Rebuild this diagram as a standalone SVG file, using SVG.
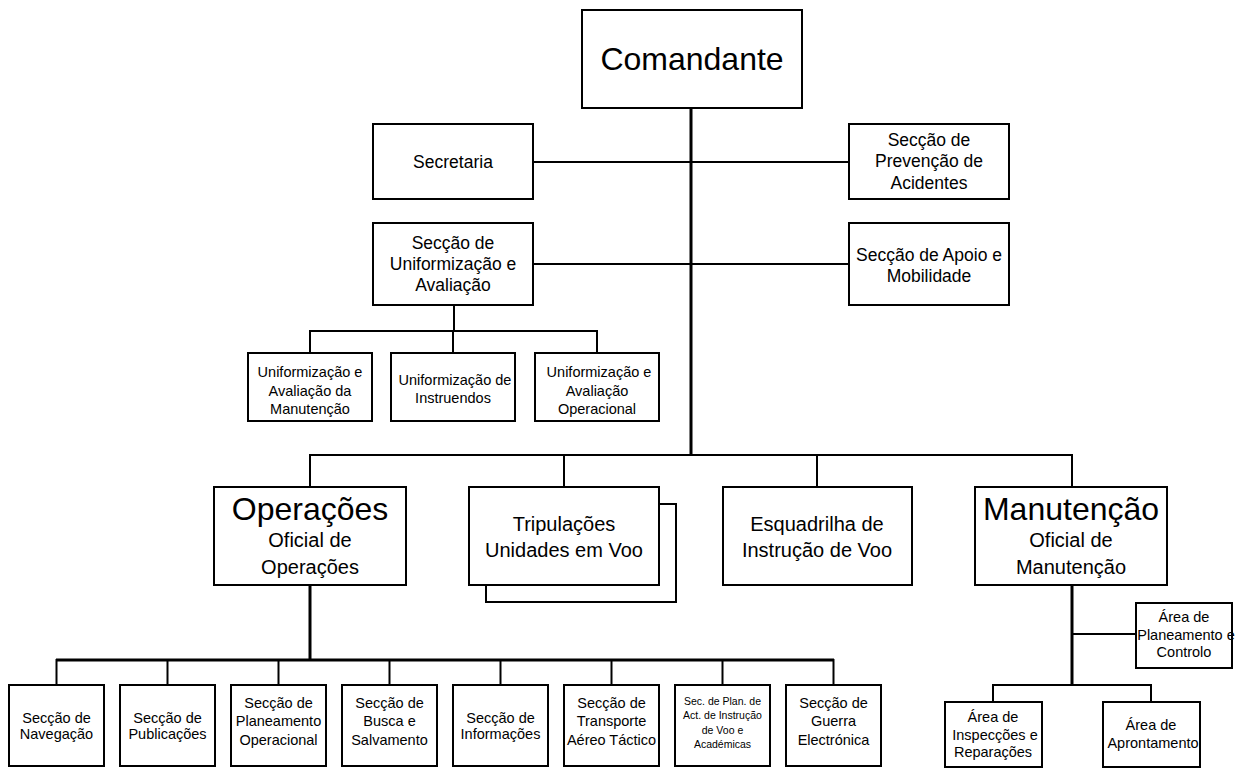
<svg xmlns="http://www.w3.org/2000/svg" width="1251" height="770" viewBox="0 0 1251 770">
  <style>
    .box { fill: #ffffff; stroke: #000000; stroke-width: 2; }
    .ln { fill: none; stroke: #000000; stroke-width: 2; }
    .trunk { fill: none; stroke: #000000; stroke-width: 3; }
    text { font-family: "Liberation Sans", Arial, sans-serif; fill: #000000; text-anchor: middle; }
    .t32 { font-size: 32px; }
    .t20 { font-size: 20px; }
    .t17 { font-size: 17.5px; }
    .t15 { font-size: 14.5px; }
    .t10 { font-size: 10.5px; }
  </style>
  <rect width="1251" height="770" fill="#ffffff"/>

  <!-- connectors -->
  <g id="connectors">
    <!-- main trunk from Comandante -->
    <line class="trunk" x1="691" y1="108" x2="691" y2="456"/>
    <line class="ln" x1="533" y1="162" x2="849" y2="162"/>
    <line class="ln" x1="533" y1="264" x2="849" y2="264"/>
    <!-- Uniformização sub-branch -->
    <line class="ln" x1="454" y1="305" x2="454" y2="331"/>
    <polyline class="ln" points="310,353 310,331 597,331 597,353"/>
    <line class="ln" x1="453" y1="331" x2="453" y2="353"/>
    <!-- divisions bar -->
    <polyline class="ln" points="310,487 310,455 1072,455 1072,487"/>
    <line class="ln" x1="564" y1="455" x2="564" y2="487"/>
    <line class="ln" x1="817" y1="455" x2="817" y2="487"/>
    <!-- Operações sections -->
    <line class="trunk" x1="310" y1="585" x2="310" y2="660"/>
    <line class="trunk" x1="56" y1="660" x2="834" y2="660"/>
    <g class="ln">
      <line x1="56.5" y1="659" x2="56.5" y2="685"/>
      <line x1="167.5" y1="659" x2="167.5" y2="685"/>
      <line x1="278.5" y1="659" x2="278.5" y2="685"/>
      <line x1="389.5" y1="659" x2="389.5" y2="685"/>
      <line x1="500.5" y1="659" x2="500.5" y2="685"/>
      <line x1="611.5" y1="659" x2="611.5" y2="685"/>
      <line x1="722.5" y1="659" x2="722.5" y2="685"/>
      <line x1="833.5" y1="659" x2="833.5" y2="685"/>
    </g>
    <!-- Manutenção areas -->
    <line class="trunk" x1="1072" y1="585" x2="1072" y2="685"/>
    <line class="ln" x1="1072" y1="634" x2="1136" y2="634"/>
    <polyline class="ln" points="993,702 993,685 1151,685 1151,702"/>
  </g>

  <!-- top -->
  <g id="comandante">
    <rect class="box" x="582" y="10" width="220" height="98"/>
    <text class="t32" x="692" y="70">Comandante</text>
  </g>
  <g id="secretaria">
    <rect class="box" x="373" y="124" width="160" height="75"/>
    <text class="t17" x="453" y="168">Secretaria</text>
  </g>
  <g id="prevencao">
    <rect class="box" x="849" y="124" width="160" height="75"/>
    <text class="t17" x="929" y="146">Secção de</text>
    <text class="t17" x="929" y="167">Prevenção de</text>
    <text class="t17" x="929" y="189">Acidentes</text>
  </g>
  <g id="uniformizacao">
    <rect class="box" x="373" y="223" width="160" height="82"/>
    <text class="t17" x="453" y="249">Secção de</text>
    <text class="t17" x="453" y="270">Uniformização e</text>
    <text class="t17" x="453" y="291">Avaliação</text>
  </g>
  <g id="apoio">
    <rect class="box" x="849" y="223" width="160" height="82"/>
    <text class="t17" x="929" y="261">Secção de Apoio e</text>
    <text class="t17" x="929" y="282">Mobilidade</text>
  </g>

  <!-- Uniformização sub-units -->
  <g id="unif-manutencao">
    <rect class="box" x="248" y="353" width="124" height="68"/>
    <text class="t15" x="310" y="377">Uniformização e</text>
    <text class="t15" x="310" y="396">Avaliação da</text>
    <text class="t15" x="310" y="414">Manutenção</text>
  </g>
  <g id="unif-instruendos">
    <rect class="box" x="391" y="353" width="124" height="68"/>
    <text class="t15" x="455" y="385">Uniformização de</text>
    <text class="t15" x="453" y="403">Instruendos</text>
  </g>
  <g id="unif-operacional">
    <rect class="box" x="535" y="353" width="124" height="68"/>
    <text class="t15" x="599" y="377">Uniformização e</text>
    <text class="t15" x="597" y="396">Avaliação</text>
    <text class="t15" x="597" y="414">Operacional</text>
  </g>

  <!-- divisions -->
  <g id="operacoes">
    <rect class="box" x="214" y="487" width="192" height="98"/>
    <text class="t32" x="310" y="520">Operações</text>
    <text class="t20" x="310" y="547">Oficial de</text>
    <text class="t20" x="310" y="574">Operações</text>
  </g>
  <g id="tripulacoes">
    <rect class="box" x="486" y="504" width="190" height="98"/>
    <rect class="box" x="469" y="487" width="190" height="98"/>
    <text class="t20" x="564" y="531">Tripulações</text>
    <text class="t20" x="564" y="557">Unidades em Voo</text>
  </g>
  <g id="esquadrilha">
    <rect class="box" x="723" y="487" width="189" height="98"/>
    <text class="t20" x="817" y="531">Esquadrilha de</text>
    <text class="t20" x="817" y="557">Instrução de Voo</text>
  </g>
  <g id="manutencao">
    <rect class="box" x="975" y="487" width="192" height="98"/>
    <text class="t32" x="1071" y="520">Manutenção</text>
    <text class="t20" x="1071" y="547">Oficial de</text>
    <text class="t20" x="1071" y="574">Manutenção</text>
  </g>

  <!-- Operações sections -->
  <g id="navegacao">
    <rect class="box" x="9" y="685" width="95" height="81"/>
    <text class="t15" x="56.5" y="723">Secção de</text>
    <text class="t15" x="56.5" y="739">Navegação</text>
  </g>
  <g id="publicacoes">
    <rect class="box" x="120" y="685" width="95" height="81"/>
    <text class="t15" x="167.5" y="723">Secção de</text>
    <text class="t15" x="167.5" y="739">Publicações</text>
  </g>
  <g id="planeamento-op">
    <rect class="box" x="231" y="685" width="95" height="81"/>
    <text class="t15" x="278.5" y="708">Secção de</text>
    <text class="t15" x="278.5" y="726">Planeamento</text>
    <text class="t15" x="278.5" y="745">Operacional</text>
  </g>
  <g id="busca">
    <rect class="box" x="342" y="685" width="95" height="81"/>
    <text class="t15" x="389.5" y="708">Secção de</text>
    <text class="t15" x="389.5" y="726">Busca e</text>
    <text class="t15" x="389.5" y="745">Salvamento</text>
  </g>
  <g id="informacoes">
    <rect class="box" x="453" y="685" width="95" height="81"/>
    <text class="t15" x="500.5" y="723">Secção de</text>
    <text class="t15" x="500.5" y="739">Informações</text>
  </g>
  <g id="transporte">
    <rect class="box" x="564" y="685" width="95" height="81"/>
    <text class="t15" x="611.5" y="708">Secção de</text>
    <text class="t15" x="611.5" y="726">Transporte</text>
    <text class="t15" x="611.5" y="745">Aéreo Táctico</text>
  </g>
  <g id="plan-instrucao">
    <rect class="box" x="675" y="685" width="95" height="81"/>
    <text class="t10" x="722.5" y="705">Sec. de Plan. de</text>
    <text class="t10" x="722.5" y="719">Act. de Instrução</text>
    <text class="t10" x="722.5" y="734">de Voo e</text>
    <text class="t10" x="722.5" y="748">Académicas</text>
  </g>
  <g id="guerra">
    <rect class="box" x="786" y="685" width="95" height="81"/>
    <text class="t15" x="833.5" y="708">Secção de</text>
    <text class="t15" x="833.5" y="726">Guerra</text>
    <text class="t15" x="833.5" y="745">Electrónica</text>
  </g>

  <!-- Manutenção areas -->
  <g id="area-planeamento">
    <rect class="box" x="1136" y="603" width="96" height="65"/>
    <text class="t15" x="1184" y="622">Área de</text>
    <text class="t15" x="1186" y="640">Planeamento e</text>
    <text class="t15" x="1184" y="657">Controlo</text>
  </g>
  <g id="area-inspeccoes">
    <rect class="box" x="945" y="702" width="97" height="65"/>
    <text class="t15" x="993" y="722">Área de</text>
    <text class="t15" x="995" y="740">Inspecções e</text>
    <text class="t15" x="993" y="757">Reparações</text>
  </g>
  <g id="area-apronto">
    <rect class="box" x="1103" y="702" width="97" height="65"/>
    <text class="t15" x="1151" y="730">Área de</text>
    <text class="t15" x="1153" y="748">Aprontamento</text>
  </g>
</svg>
